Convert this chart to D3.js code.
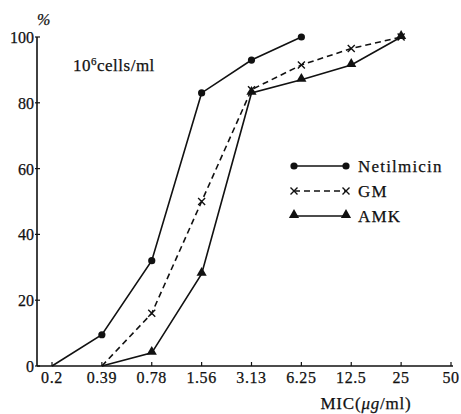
<!DOCTYPE html>
<html>
<head>
<meta charset="utf-8">
<script src="https://cdn.jsdelivr.net/npm/d3@7"></script>
<style>
  body { margin: 0; background: #fff; }
  svg text { font-family: "Liberation Serif", "DejaVu Serif", serif; fill: #111; stroke: #111; stroke-width: 0.25px; }
</style>
</head>
<body>
<svg width="461" height="414"></svg>
<script>
// MIC categories (log2 dilution steps)
var micLabels = ["0.2", "0.39", "0.78", "1.56", "3.13", "6.25", "12.5", "25", "50"];
var yTicks = [0, 20, 40, 60, 80, 100];

// cumulative % of strains inhibited
var netilmicinMic = ["0.2", "0.39", "0.78", "1.56", "3.13", "6.25"];
var netilmicinPct = [0, 9.5, 32, 83, 93, 100];

var gmMic = ["0.39", "0.78", "1.56", "3.13", "6.25", "12.5", "25"];
var gmPct = [0, 16, 50, 84, 91.5, 96.5, 100];

var amkMic = ["0.39", "0.78", "1.56", "3.13", "6.25", "12.5", "25"];
var amkPct = [0, 4, 28, 83, 87, 91.5, 100];

var svg = d3.select("svg");

var x = d3.scalePoint()
    .domain(micLabels)
    .range([52, 451]);

var y = d3.scaleLinear()
    .domain([0, 100])
    .range([366, 37]);

var xAxisLeft = 37;

// x axis
var gx = svg.append("g")
    .attr("transform", "translate(0," + y(0) + ")");
gx.append("line")
    .attr("x1", xAxisLeft).attr("x2", x("50") + 2)
    .attr("stroke", "#111").attr("stroke-width", 1.6);
gx.selectAll(".tk")
    .data(micLabels)
    .enter().append("line")
    .attr("x1", function(d) { return x(d); })
    .attr("x2", function(d) { return x(d); })
    .attr("y1", 0).attr("y2", -4)
    .attr("stroke", "#111").attr("stroke-width", 1.2);
gx.selectAll(".lb")
    .data(micLabels)
    .enter().append("text")
    .attr("x", function(d) { return x(d); })
    .attr("y", 17)
    .attr("text-anchor", "middle")
    .style("font-size", "16px")
    .style("letter-spacing", "0.6px")
    .text(function(d) { return d; });

// y axis
var gy = svg.append("g")
    .attr("transform", "translate(" + xAxisLeft + ",0)");
gy.append("line")
    .attr("y1", y(0)).attr("y2", y(100))
    .attr("stroke", "#111").attr("stroke-width", 1.6);
gy.selectAll(".tk")
    .data(yTicks)
    .enter().append("line")
    .attr("x1", -2).attr("x2", 3)
    .attr("y1", function(d) { return y(d); })
    .attr("y2", function(d) { return y(d); })
    .attr("stroke", "#111").attr("stroke-width", 1.2);
gy.selectAll(".lb")
    .data(yTicks)
    .enter().append("text")
    .attr("x", -3)
    .attr("y", function(d) { return y(d) + 6; })
    .attr("text-anchor", "end")
    .style("font-size", "16px")
    .text(function(d) { return d; });

svg.append("text")
    .attr("x", 37).attr("y", 25)
    .style("font-size", "16px")
    .style("font-style", "italic")
    .text("%");

// cell density note
var note = svg.append("text")
    .attr("x", 73).attr("y", 71)
    .style("font-size", "17px")
    .style("letter-spacing", "0.5px");
note.append("tspan").text("10");
note.append("tspan").attr("dy", -6).style("font-size", "11px").text("6");
note.append("tspan").attr("dy", 6).text("cells/ml");

// axis title
var title = svg.append("text")
    .attr("x", 366).attr("y", 409)
    .attr("text-anchor", "middle")
    .style("font-size", "17px")
    .style("letter-spacing", "0.8px");
title.append("tspan").text("MIC(");
title.append("tspan").style("font-style", "italic").text("μg");
title.append("tspan").text("/ml)");

var line = d3.line()
    .x(function(d) { return x(d.mic); })
    .y(function(d) { return y(d.pct); });

function zipSeries(mics, pcts) {
    return mics.map(function(m, i) { return { mic: m, pct: pcts[i] }; });
}

var series = [
    { name: "Netilmicin", data: zipSeries(netilmicinMic, netilmicinPct), dash: null, marker: "circle" },
    { name: "GM", data: zipSeries(gmMic, gmPct), dash: "6,4", marker: "cross" },
    { name: "AMK", data: zipSeries(amkMic, amkPct), dash: null, marker: "triangle" }
];

function drawMarker(g, type, cx, cy) {
    if (type === "circle") {
        g.append("circle").attr("cx", cx).attr("cy", cy).attr("r", 3.6).attr("fill", "#111");
    } else if (type === "triangle") {
        g.append("path")
            .attr("d", d3.symbol().type(d3.symbolTriangle).size(45)())
            .attr("transform", "translate(" + cx + "," + (cy - 1) + ")")
            .attr("fill", "#111");
    } else {
        g.append("path")
            .attr("d", "M-3.5,-3.5L3.5,3.5M-3.5,3.5L3.5,-3.5")
            .attr("transform", "translate(" + cx + "," + cy + ")")
            .attr("stroke", "#111").attr("stroke-width", 1.4).attr("fill", "none");
    }
}

series.forEach(function(s) {
    var g = svg.append("g");
    g.append("path")
        .datum(s.data)
        .attr("d", line)
        .attr("fill", "none")
        .attr("stroke", "#111")
        .attr("stroke-width", 1.6)
        .attr("stroke-dasharray", s.dash);
    s.data.forEach(function(d, i) {
        // first point sits on the axis without a marker
        if (i === 0 && d.pct === 0) return;
        drawMarker(g, s.marker, x(d.mic), y(d.pct));
    });
});

// legend
var legendY = [166, 191, 216];
series.forEach(function(s, i) {
    var g = svg.append("g");
    g.append("line")
        .attr("x1", 294).attr("x2", 346)
        .attr("y1", legendY[i]).attr("y2", legendY[i])
        .attr("stroke", "#111").attr("stroke-width", 1.6)
        .attr("stroke-dasharray", s.dash);
    drawMarker(g, s.marker, 294, legendY[i]);
    drawMarker(g, s.marker, 346, legendY[i]);
    g.append("text")
        .attr("x", 358).attr("y", legendY[i] + 6)
        .style("font-size", "17px")
        .style("letter-spacing", "1.2px")
        .text(s.name);
});
</script>
</body>
</html>
